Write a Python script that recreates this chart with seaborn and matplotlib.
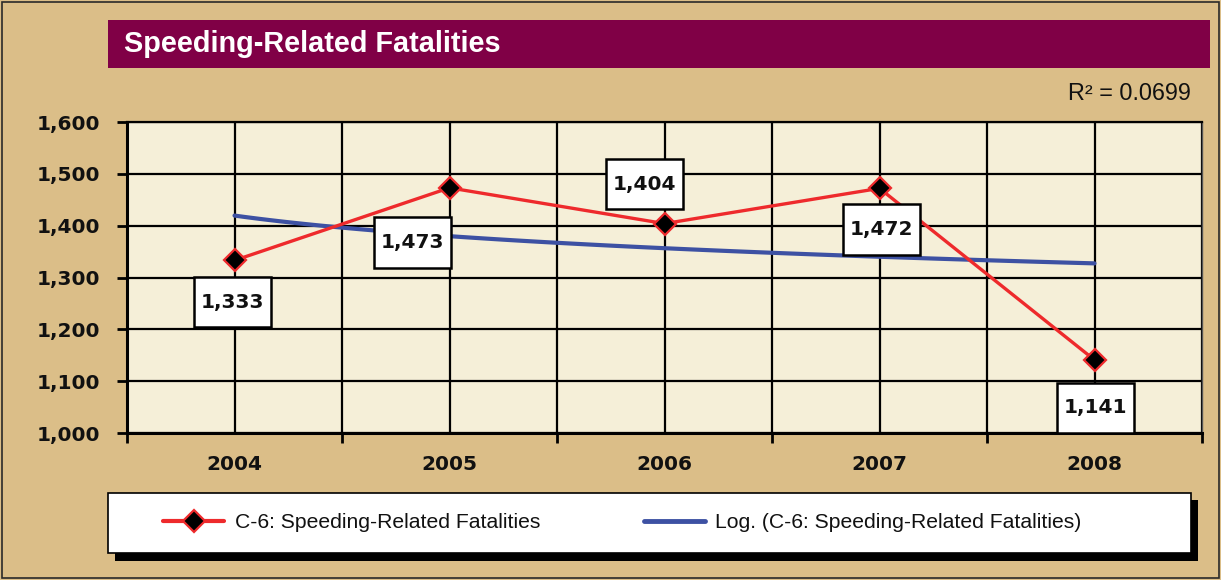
import numpy as np
import pandas as pd
import matplotlib
matplotlib.use("Agg")
import matplotlib.pyplot as plt
from matplotlib.patches import Rectangle
from matplotlib.path import Path
from matplotlib.lines import Line2D
import seaborn as sns

# ---------------- data ----------------
years = ["2004", "2005", "2006", "2007", "2008"]
fatalities = [1333, 1473, 1404, 1472, 1141]
value_labels = ["1,333", "1,473", "1,404", "1,472", "1,141"]
y_ticks = [1000, 1100, 1200, 1300, 1400, 1500, 1600]
y_tick_labels = ["1,000", "1,100", "1,200", "1,300", "1,400", "1,500", "1,600"]
title = "Speeding-Related Fatalities"
r2_text = "R\u00b2 = 0.0699"
series_name = "C-6: Speeding-Related Fatalities"
trend_name = "Log. (C-6: Speeding-Related Fatalities)"

# ---------------- style ----------------
TAN = "#DBBE88"
CREAM = "#F5EFD8"
MAROON = "#800046"
RED = "#EE2A2C"
BLUE = "#3D51A3"

sns.set_theme(style="ticks")
plt.rcParams["font.family"] = ["Liberation Sans", "DejaVu Sans"]

W, H = 1221, 580
fig = plt.figure(figsize=(W / 100, H / 100), dpi=100, facecolor=TAN)

def fx(px):
    return px / W

def fy(py):
    return 1 - py / H

def label_box(x0, y0, width, height, mutation_size):
    px = 0.33 * mutation_size
    py = 0.78 * mutation_size
    x0, y0 = x0 - px, y0 - py
    x1, y1 = x0 + width + 2 * px, y0 + height + 2 * py
    return Path([(x0, y0), (x1, y0), (x1, y1), (x0, y1), (x0, y0)],
                closed=True)

# figure border
fig.patches.append(Rectangle((0.002, 0.003), 0.996, 0.994, transform=fig.transFigure,
                             fill=False, edgecolor="#2a2a2a", linewidth=1.2, zorder=0))

# title bar
fig.patches.append(Rectangle((fx(108), fy(68)), fx(1210) - fx(108), fy(20) - fy(68),
                             transform=fig.transFigure, facecolor=MAROON, edgecolor="none", zorder=1))
fig.text(fx(124), fy(44), title, color="white", fontsize=20.8, fontweight="bold",
         ha="left", va="center", family=["Liberation Sans", "DejaVu Sans"])

# R^2 text
fig.text(fx(1191), fy(93), r2_text, color="#111111", fontsize=16.8, ha="right", va="center",
         family=["Liberation Sans", "DejaVu Sans"])

# axes
ax = fig.add_axes([fx(127), fy(433), fx(1202) - fx(127), fy(122) - fy(433)])
ax.set_facecolor(CREAM)

x_idx = np.arange(1, len(years) + 1)
df = pd.DataFrame({"x": x_idx, "y": fatalities})

# logarithmic trend line (Excel-style: fit on category index)
sns.regplot(data=df, x="x", y="y", logx=True, ci=None, scatter=False, ax=ax,
            line_kws=dict(color=BLUE, linewidth=3.0, zorder=3))

sns.lineplot(data=df, x="x", y="y", ax=ax, color=RED, linewidth=2.4, marker="D",
             markersize=11, markerfacecolor="black", markeredgecolor=RED,
             markeredgewidth=1.6, zorder=4, legend=False)

ax.set_xlim(0.5, len(years) + 0.5)
ax.set_ylim(y_ticks[0], y_ticks[-1])
ax.set_xlabel("")
ax.set_ylabel("")

# ticks
ax.set_yticks(y_ticks)
ax.set_yticklabels(y_tick_labels)
ax.set_xticks(x_idx)
ax.set_xticklabels(years)
ax.set_xticks(np.arange(0.5, len(years) + 1, 1.0), minor=True)
for lab in ax.get_yticklabels() + ax.get_xticklabels():
    lab.set_family(["DejaVu Sans"])
    lab.set_fontweight("bold")
    lab.set_fontsize(14.5)
    lab.set_color("#111111")
ax.tick_params(axis="y", which="major", direction="out", length=7, width=2, color="black", pad=12)
ax.tick_params(axis="x", which="major", length=0, pad=16)
ax.tick_params(axis="x", which="minor", direction="out", length=7, width=2, color="black")

# grid
ax.grid(True, axis="y", which="major", color="black", linewidth=1.6, zorder=1)
ax.grid(True, axis="x", which="both", color="black", linewidth=1.6, zorder=1)
ax.set_axisbelow(True)
for side in ["left", "bottom"]:
    ax.spines[side].set_color("black")
    ax.spines[side].set_linewidth(2.2)
ax.spines["top"].set_color("black")
ax.spines["top"].set_linewidth(1.6)
ax.spines["right"].set_color("#555555")
ax.spines["right"].set_linewidth(1.0)

# value labels
label_offsets = [(-1.5, -30), (-26.5, -39.5), (-14.5, 28.5), (1.5, -29.5), (0.5, -34.5)]
for xi, yv, txt, off in zip(x_idx, fatalities, value_labels, label_offsets):
    ax.annotate(txt, xy=(xi, yv), xytext=off, textcoords="offset points",
                ha="center", va="center", fontsize=14.5, fontweight="bold",
                family=["DejaVu Sans"], color="#111111", zorder=6,
                bbox=dict(boxstyle=label_box, facecolor="white",
                          edgecolor="black", linewidth=1.8))

# legend box with shadow
fig.patches.append(Rectangle((fx(115), fy(561)), fx(1198) - fx(115), fy(500) - fy(561),
                             transform=fig.transFigure, facecolor="black", edgecolor="none", zorder=1))
fig.patches.append(Rectangle((fx(108), fy(553)), fx(1191) - fx(108), fy(493) - fy(553),
                             transform=fig.transFigure, facecolor="white", edgecolor="black",
                             linewidth=1.2, zorder=2))

handles = [
    Line2D([0], [0], color=RED, linewidth=3, marker="D", markersize=11,
           markerfacecolor="black", markeredgecolor=RED, markeredgewidth=1.6),
    Line2D([0], [0], color=BLUE, linewidth=3.5),
]
leg = fig.legend(handles, [series_name, trend_name], loc="center left",
                 bbox_to_anchor=(fx(163), fy(523)), ncol=2, frameon=False,
                 prop=dict(family=["Liberation Sans", "DejaVu Sans"], size=15.2),
                 handlelength=2.9, handletextpad=0.5, columnspacing=4.9,
                 borderpad=0, borderaxespad=0)
for t in leg.get_texts():
    t.set_color("#111111")
leg.set_zorder(5)

fig.savefig("out.png", dpi=100, facecolor=TAN)
